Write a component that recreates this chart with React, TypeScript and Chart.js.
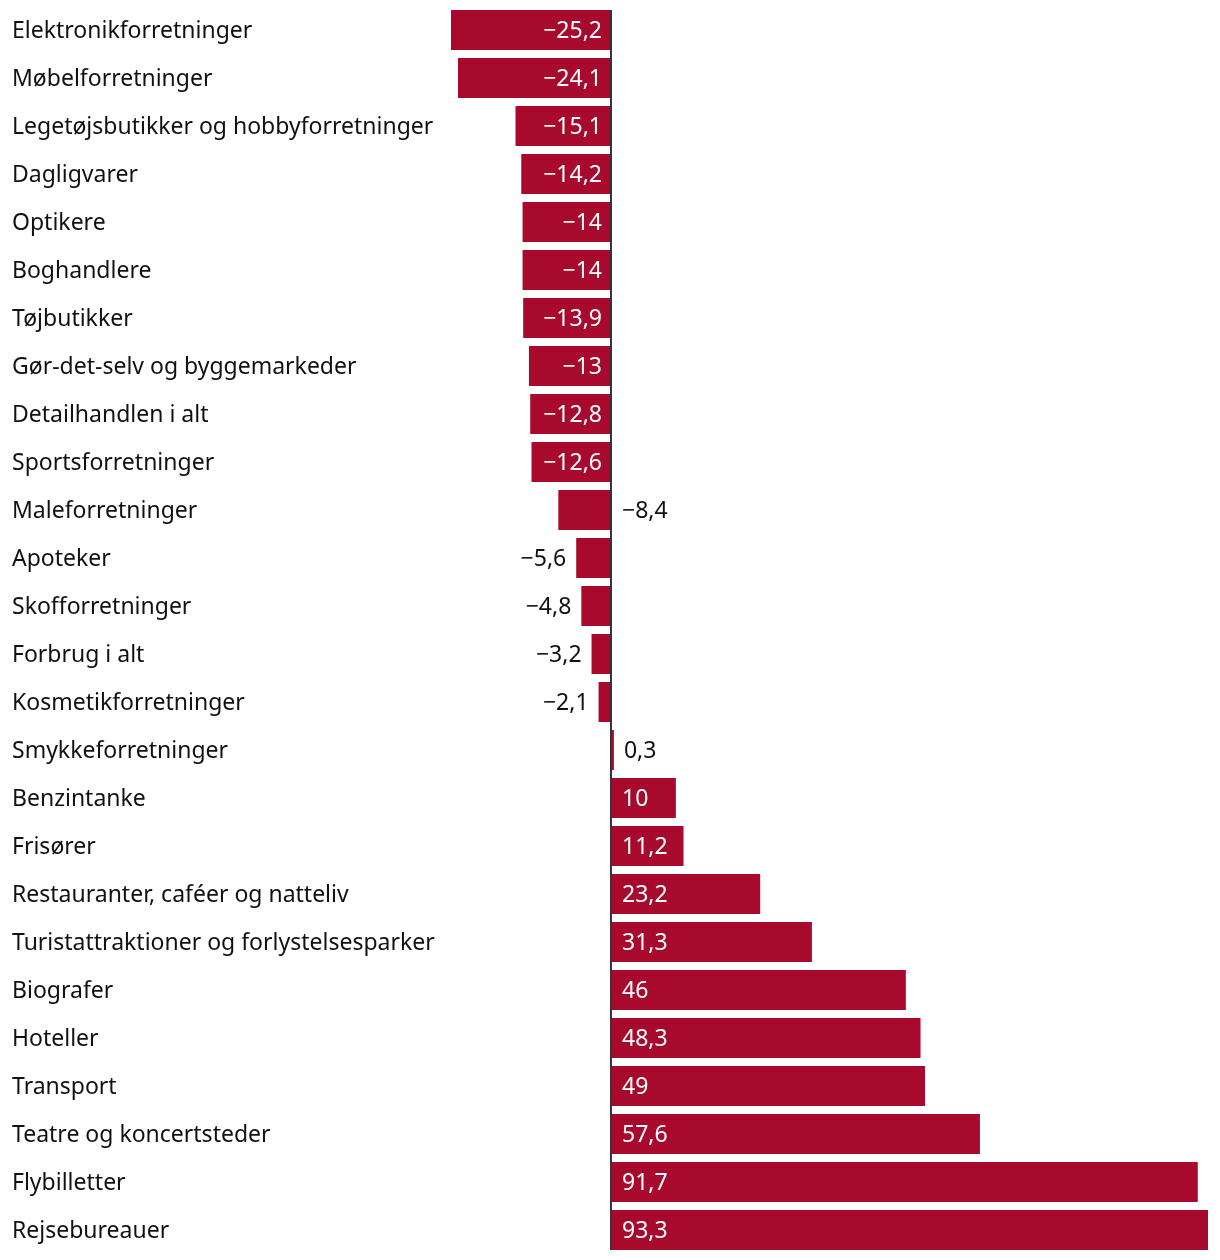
import React, { useEffect, useRef } from "react";
import { Chart, registerables } from "chart.js";

Chart.register(...registerables);

const categories: string[] = [
  "Elektronikforretninger",
  "Møbelforretninger",
  "Legetøjsbutikker og hobbyforretninger",
  "Dagligvarer",
  "Optikere",
  "Boghandlere",
  "Tøjbutikker",
  "Gør-det-selv og byggemarkeder",
  "Detailhandlen i alt",
  "Sportsforretninger",
  "Maleforretninger",
  "Apoteker",
  "Skofforretninger",
  "Forbrug i alt",
  "Kosmetikforretninger",
  "Smykkeforretninger",
  "Benzintanke",
  "Frisører",
  "Restauranter, caféer og natteliv",
  "Turistattraktioner og forlystelsesparker",
  "Biografer",
  "Hoteller",
  "Transport",
  "Teatre og koncertsteder",
  "Flybilletter",
  "Rejsebureauer",
];

const values: number[] = [
  -25.2, -24.1, -15.1, -14.2, -14, -14, -13.9, -13, -12.8, -12.6, -8.4, -5.6,
  -4.8, -3.2, -2.1, 0.3, 10, 11.2, 23.2, 31.3, 46, 48.3, 49, 57.6, 91.7, 93.3,
];

const FONT = "'Noto Sans', sans-serif";
const BAR = "#a80a2e";

const fmt = (v: number) => {
  const s = Math.abs(v).toString().replace(".", ",");
  return v < 0 ? "\u2212" + s : s;
};

// labels that sit right of the zero line when they do not fit in the bar
const flipRight = new Set<number>([10]);

const labelPlugin = {
  id: "valueLabels",
  afterDatasetsDraw(chart: any) {
    const { ctx } = chart;
    const meta = chart.getDatasetMeta(0);
    const xs = chart.scales.x;
    const zero = xs.getPixelForValue(0);
    ctx.save();
    // zero line
    ctx.strokeStyle = "#333333";
    ctx.lineWidth = 2;
    ctx.beginPath();
    ctx.moveTo(zero - 1, chart.chartArea.top + 4);
    ctx.lineTo(zero - 1, chart.chartArea.bottom - 4);
    ctx.stroke();

    ctx.font = `23px ${FONT}`;
    ctx.textBaseline = "middle";
    const pad = 10;
    meta.data.forEach((bar: any, i: number) => {
      const v = values[i];
      const text = fmt(v);
      const w = ctx.measureText(text).width;
      const len = Math.abs(bar.x - zero);
      const y = bar.y + 1.5;
      if (len >= w + 2 * pad) {
        ctx.fillStyle = "#ffffff";
        if (v < 0) {
          ctx.textAlign = "right";
          ctx.fillText(text, zero - pad, y);
        } else {
          ctx.textAlign = "left";
          ctx.fillText(text, zero + pad, y);
        }
      } else {
        ctx.fillStyle = "#111111";
        if (v < 0 && !flipRight.has(i)) {
          ctx.textAlign = "right";
          ctx.fillText(text, bar.x - pad, y);
        } else {
          ctx.textAlign = "left";
          ctx.fillText(text, Math.max(bar.x, zero) + pad, y);
        }
      }
    });
    ctx.restore();
  },
};

export default function App() {
  const ref = useRef<HTMLCanvasElement | null>(null);
  useEffect(() => {
    if (!ref.current) return;
    const chart = new Chart(ref.current, {
      type: "bar",
      data: {
        labels: categories,
        datasets: [
          {
            data: values,
            backgroundColor: BAR,
            borderWidth: 0,
            barPercentage: 1,
            categoryPercentage: 40 / 48,
          },
        ],
      },
      options: {
        indexAxis: "y",
        animation: false,
        responsive: true,
        maintainAspectRatio: false,
        layout: { padding: { left: 12, right: 12, top: 6, bottom: 6 } },
        plugins: {
          legend: { display: false },
          tooltip: { enabled: false },
        },
        scales: {
          x: {
            display: false,
            min: -25.2,
            max: 93.3,
          },
          y: {
            grid: { display: false },
            border: { display: false },
            afterFit: (scale: any) => {
              scale.width = 439;
              scale.paddingTop = 0;
              scale.paddingBottom = 0;
            },
            ticks: {
              crossAlign: "far",
              padding: 0,
              labelOffset: 1.5,
              color: "#111111",
              font: { family: FONT, size: 23 },
              autoSkip: false,
            },
          },
        },
      },
      plugins: [labelPlugin],
    });
    return () => chart.destroy();
  }, []);
  return (
    <div style={{ position: "absolute", left: 0, top: 0, width: 1220, height: 1260 }}>
      <canvas ref={ref} />
    </div>
  );
}
